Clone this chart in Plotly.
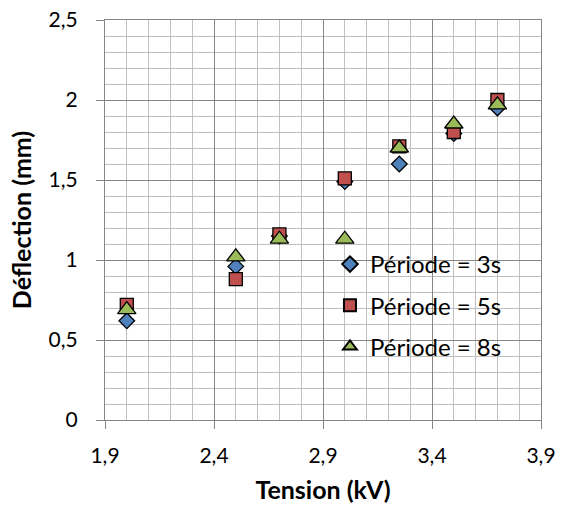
import plotly.graph_objects as go

tension = [2.0, 2.5, 2.7, 3.0, 3.25, 3.5, 3.7]
defl_3s = [0.62, 0.96, 1.15, 1.49, 1.60, 1.79, 1.95]
defl_5s = [0.72, 0.88, 1.16, 1.51, 1.71, 1.80, 2.00]
defl_8s = [0.69, 1.02, 1.13, 1.13, 1.70, 1.85, 1.97]

names = ["Période = 3s", "Période = 5s", "Période = 8s"]
colors = ["#4F81BD", "#C0504D", "#9BBB59"]
symbols = ["diamond", "square", "triangle-up"]
sizes = [12, 13, 16]
series = [defl_3s, defl_5s, defl_8s]

FONT = "Lato, Calibri, Carlito, sans-serif"

fig = go.Figure()
for i, (nm, ys) in enumerate(zip(names, series)):
    fig.add_trace(go.Scatter(
        x=tension, y=ys, mode="markers", name=nm, legendgroup=str(i),
        marker=dict(symbol=symbols[i], size=sizes[i], color=colors[i],
                    line=dict(color="black", width=1.3)),
    ))

axis_common = dict(
    showline=True, linecolor="#868686", linewidth=1.3, mirror=True,
    showgrid=True, gridcolor="#868686", gridwidth=1.3,
    ticks="outside", ticklen=8, tickcolor="#868686", tickwidth=1.3,
    zeroline=False, ticklabeloverflow="allow", automargin=False,
    tickfont=dict(family=FONT, size=21, color="black"),
)

fig.update_xaxes(
    range=[1.9, 3.9], tick0=1.9, dtick=0.5, **axis_common,
    ticklabelstandoff=9,
    minor=dict(dtick=0.1, tick0=1.9, showgrid=True, gridcolor="#BFBFBF", gridwidth=1.3, ticks=""),
    title=dict(text="<b>Tension (kV)</b>", font=dict(family=FONT, size=25, color="black"), standoff=15),
)
fig.update_yaxes(
    range=[0, 2.5], tick0=0, dtick=0.5, **axis_common,
    ticklabelstandoff=14,
    minor=dict(dtick=0.1, tick0=0, showgrid=True, gridcolor="#BFBFBF", gridwidth=1.3, ticks=""),
    title=dict(text="<b>Déflection (mm)</b>", font=dict(family=FONT, size=25, color="black"), standoff=9),
)

fig.update_layout(
    width=564, height=507,
    margin=dict(l=105, r=23, t=20, b=87),
    plot_bgcolor="white", paper_bgcolor="white",
    separators=",.",
    font=dict(family=FONT, color="black"),
    legend=dict(
        x=0.516, y=0.445, xanchor="left", yanchor="top",
        bgcolor="rgba(0,0,0,0)", borderwidth=0,
        font=dict(family=FONT, size=24, color="black"),
        traceorder="grouped", tracegroupgap=7,
        itemsizing="constant",
    ),
    showlegend=True,
)

fig.write_html("out.html", config={"displayModeBar": False},
               post_script="document.body.style.margin='0';")
